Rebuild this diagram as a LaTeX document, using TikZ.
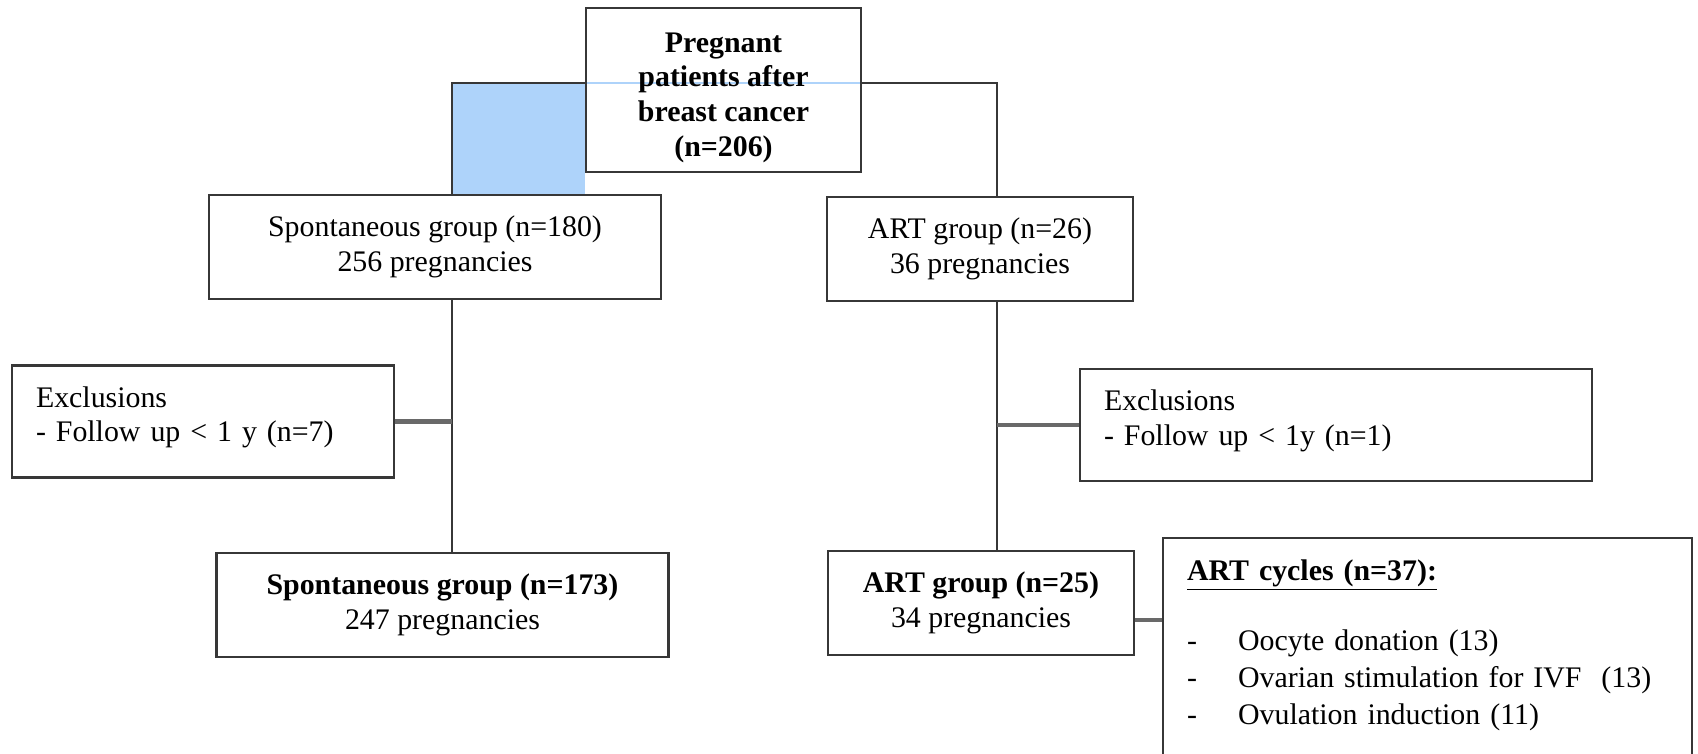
\documentclass[tikz,border=0pt]{standalone}
\usepackage{fontspec}
\setmainfont{Liberation Serif}
\usetikzlibrary{positioning,backgrounds}
\definecolor{lineGray}{RGB}{55,55,55}
\definecolor{fillBlue}{RGB}{174,211,250}
\tikzstyle{cell}=[rectangle,draw=lineGray,line width=1.2pt,fill=white,font=\fontsize{17}{19.7}\selectfont]
\tikzstyle{headcell}=[cell,fill=none,align=center,minimum width=5.5cm,minimum height=3.28cm,font=\fontsize{17}{19.7}\selectfont\bfseries]
\tikzstyle{grpcell}=[cell,align=center,minimum width=9.04cm,minimum height=2.08cm]
\tikzstyle{exclcell}=[cell,align=left,inner xsep=0.48cm,minimum height=2.24cm]
\tikzstyle{link}=[draw=lineGray,line width=1.4pt]
\tikzstyle{sidelink}=[draw=lineGray!75,line width=2.4pt]
\newcommand{\lowpad}{\rule[-0.30cm]{0pt}{0.30cm}}

\begin{document}
\begin{tikzpicture}[node distance=0.42cm]
\useasboundingbox (0,0) rectangle (33.96,-15.06);
\node[headcell] (preg) at (14.47,-1.80) {\rule{0pt}{0.69cm}Pregnant\\patients after\\breast cancer\\(n=206)};
\node[grpcell, below=of preg, xshift=-5.77cm] (spont) {Spontaneous group (n=180)\\256 pregnancies};
\node[grpcell, minimum width=6.12cm, below=0.46cm of preg, xshift=5.13cm] (art) {ART group (n=26)\\36 pregnancies};
\node[grpcell, below=5.03cm of spont, xshift=0.15cm] (spont2) {\textbf{Spontaneous group (n=173)}\\247 pregnancies};
\node[grpcell, minimum width=6.12cm, below=4.95cm of art, xshift=0.02cm] (art2) {\textbf{ART group (n=25)}\\34 pregnancies};
\node[exclcell, text width=6.68cm] (exclL) at (4.06,-8.43) {Exclusions\\- Follow up < 1 y (n=7)\lowpad};
\node[exclcell, text width=9.28cm] (exclR) at (26.72,-8.50) {Exclusions\\- Follow up < 1y (n=1)\lowpad};
\node[exclcell, text width=9.62cm, inner ysep=0.44cm, anchor=north west, font=\fontsize{17}{21.2}\selectfont] (cycles) at (23.24,-10.74) {\textbf{\underline{ART cycles (n=37):}}\\[18.2pt]
\makebox[1.02cm][l]{-}Oocyte donation (13)\\
\makebox[1.02cm][l]{-}Ovarian stimulation for IVF\ \ (13)\\
\makebox[1.02cm][l]{-}Ovulation induction (11)\\[1.5cm]\mbox{}};
\coordinate (jl) at (9.04,-1.66);
\coordinate (jr) at (19.94,-1.66);
\begin{scope}[on background layer]
\fill[fillBlue] (jl) rectangle (preg.west |- spont.north);
\draw[fillBlue, line width=0.8pt] (preg.west |- jl) -- (preg.east |- jr);
\end{scope}
\path[link] (preg.west |- jl) -- (jl) -- (jl |- spont.north);
\path[link] (preg.east |- jr) -- (jr) -- (jr |- art.north);
\path[link] (jl |- spont.south) -- (jl |- spont2.north);
\path[link] (jr |- art.south) -- (jr |- art2.north);
\path[sidelink] (exclL.east) -- (exclL.east -| jl);
\path[sidelink] (exclR.west) -- (exclR.west -| jr);
\path[sidelink] ([yshift=-0.34cm]art2.east) -- ([yshift=-0.34cm]art2.east -| cycles.west);
\end{tikzpicture}
\end{document}
